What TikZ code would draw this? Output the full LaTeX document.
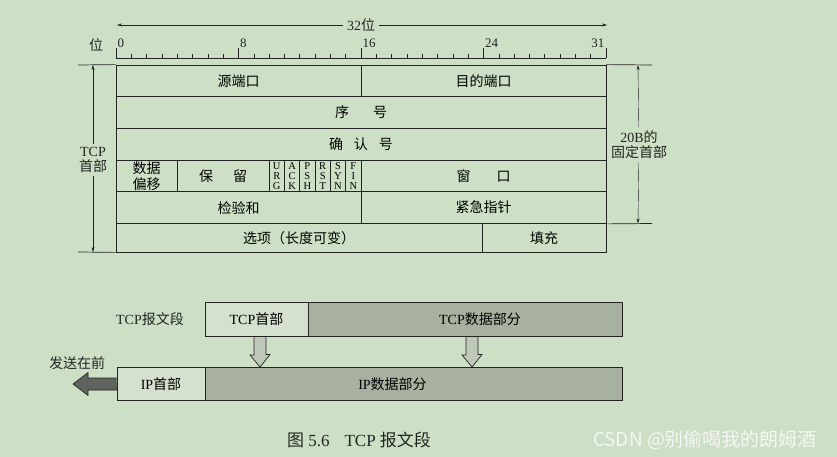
\documentclass[tikz,border=0pt]{standalone}
\usepackage{fontspec}
\setmainfont{Liberation Serif}
\newfontfamily\cjk{Noto Sans CJK SC}
\usetikzlibrary{arrows.meta}

\definecolor{bgcolor}{RGB}{205,224,197}
\definecolor{lightpart}{RGB}{214,224,207}
\definecolor{darkpart}{RGB}{168,177,160}
\definecolor{arrowfill}{RGB}{192,200,186}
\definecolor{sendfill}{RGB}{95,100,95}
\definecolor{inkcolor}{RGB}{35,35,35}

\tikzset{
  cell/.style={draw=inkcolor, line width=0.8pt, inner sep=0pt, minimum height=31.7pt,
    font=\cjk\fontsize{14}{16}\selectfont},
  flagcell/.style={cell, minimum width=15.3125pt, align=center,
    font=\fontsize{10.5}{10}\selectfont},
  seg/.style={draw=inkcolor, line width=0.8pt, inner sep=0pt, minimum height=33.5pt},
  dimarrow/.style={inkcolor, thin, -{Stealth[length=5pt, width=3pt]}},
  bigarrow/.style={draw=inkcolor, line width=0.7pt, fill=arrowfill},
}

\begin{document}
\begin{tikzpicture}[x=1pt, y=-1pt, font=\fontsize{14}{16}\selectfont]
\fill[bgcolor] (0,0) rectangle (837,457);

% 1. 标记重要的点
\coordinate (wl) at (117, 25);
\coordinate (wr) at (607, 25);
\coordinate (lt) at (93, 65);
\coordinate (lb) at (93, 252);
\coordinate (rt) at (638, 65);
\coordinate (rb) at (638, 223.5);

% 2. 顶部的位数和刻度
\node[inkcolor] (w32) at (361, 25) {32{\cjk 位}};
\draw[dimarrow] (w32) -- (wl);
\draw[dimarrow] (w32) -- (wr);
\node[inkcolor, font=\cjk\fontsize{14}{16}\selectfont] (weilbl) at (96, 45) {位};

\draw[inkcolor, line width=0.7pt] (116, 58) -- (606, 58);
\foreach \b in {0,...,32}
    {\draw[inkcolor, line width=0.6pt] (116+15.3125*\b, 58) -- ++(0, -4);}
\foreach \loc/\x in
    {0/0, 8/8, 16/16, 24/24}
    {\draw[inkcolor, line width=0.7pt] (116+15.3125*\loc, 58) -- ++(0, -10);
     \node[inkcolor, anchor=south west, inner sep=1.5pt, font=\fontsize{13}{15}\selectfont]
        (bit\x) at (116+15.3125*\loc, 49.5) {\x};
    }
\draw[inkcolor, line width=0.7pt] (606, 58) -- ++(0, -10);
\node[inkcolor, anchor=south east, inner sep=1.5pt, font=\fontsize{13}{15}\selectfont]
    (bit31) at (606, 49.5) {31};

% 3. 首部的各个字段
\node[cell, minimum width=245pt] (srcport) at (238.5, 80.85) {源端口};
\node[cell, minimum width=245pt] (dstport) at (483.5, 80.85) {目的端口};
\node[cell, minimum width=490pt] (seqnum) at (361, 112.55) {序\hspace{24pt}号};
\node[cell, minimum width=490pt] (acknum) at (361, 144.25) {确\hspace{11pt}认\hspace{11pt}号};
\node[cell, minimum width=61.25pt, align=center] (offset) at (146.625, 175.95) {数据\\偏移};
\node[cell, minimum width=91.875pt] (resv) at (223.1875, 175.95) {保\hspace{20pt}留};
\foreach \i/\fa/\fb/\fc in
    {0/U/R/G, 1/A/C/K, 2/P/S/H, 3/R/S/T, 4/S/Y/N, 5/F/I/N}
    {\node[flagcell] (flag\i) at (269.125+15.3125*\i+7.65625, 175.95) {\fa\\\fb\\\fc};}
\node[cell, minimum width=245pt] (window) at (483.5, 175.95) {窗\hspace{26pt}口};
\node[cell, minimum width=245pt] (checksum) at (238.5, 207.65) {检验和};
\node[cell, minimum width=245pt] (urgptr) at (483.5, 207.65) {紧急指针};
\node[cell, minimum width=366pt, minimum height=28.5pt] (options) at (299, 237.75) {选项（长度可变）};
\node[cell, minimum width=124pt, minimum height=28.5pt] (padding) at (544, 237.75) {填充};

% 4. 两侧的尺寸标注
\draw[inkcolor, line width=0.7pt] (78, 65) -- (srcport.north west);
\draw[inkcolor, line width=0.7pt] (78, 252) -- (options.south west);
\draw[inkcolor, line width=0.7pt] (dstport.north east) -- (652, 65);
\draw[inkcolor, line width=0.7pt] (urgptr.south east) -- (652, 223.5);
\node[inkcolor, align=center] (hdrlbl) at (93, 160) {TCP\\[-1pt]{\cjk 首部}};
\draw[dimarrow] (hdrlbl) -- (lt);
\draw[dimarrow] (hdrlbl) -- (lb);
\node[inkcolor, align=center] (fixlbl) at (639, 145) {20B{\cjk 的}\\[-1pt]{\cjk 固定首部}};
\draw[dimarrow] (fixlbl) -- (rt);
\draw[dimarrow] (fixlbl) -- (rb);

% 5. 下方的报文段和IP数据报
\node[inkcolor] (seglbl) at (150, 319) {TCP{\cjk 报文段}};
\node[seg, fill=lightpart, minimum width=103pt] (tcphead) at (256.5, 319.5) {TCP{\cjk 首部}};
\node[seg, fill=darkpart, minimum width=314pt] (tcpdata) at (465, 319.5)
    {TCP{\cjk 数据部分}\hspace*{-30pt}};
\node[seg, fill=lightpart, minimum width=88pt] (iphead) at (161, 384) {IP{\cjk 首部}};
\node[seg, fill=darkpart, minimum width=417pt] (ipdata) at (413.5, 384)
    {\hspace*{-42pt}IP{\cjk 数据部分}};

\foreach \loc in {260, 472}
    {\draw[bigarrow] (\loc-6, 336.5) -- ++(12, 0) -- ++(0, 18) -- ++(4, 0)
        -- (\loc, 367) -- ++(-10, -12) -- ++(4, 0) -- cycle;}

\draw[draw=inkcolor, line width=0.6pt, fill=sendfill] (iphead.west) ++(0, -6) -- (88, 378)
    -- (88, 372.5) -- (73, 384) -- (88, 395.5) -- (88, 390) -- (117, 390);
\node[inkcolor, font=\cjk\fontsize{14}{16}\selectfont] (sendlbl) at (77, 363) {发送在前};

% 6. 图题
\node[inkcolor, font=\fontsize{17}{19}\selectfont] (caption) at (359, 440)
    {{\cjk 图} 5.6\hspace{15pt}TCP {\cjk 报文段}};
\node[white!92!gray, font=\cjk\fontsize{19}{21}\selectfont] (mark) at (705, 440)
    {CSDN @别偷喝我的朗姆酒};
\end{tikzpicture}
\end{document}
